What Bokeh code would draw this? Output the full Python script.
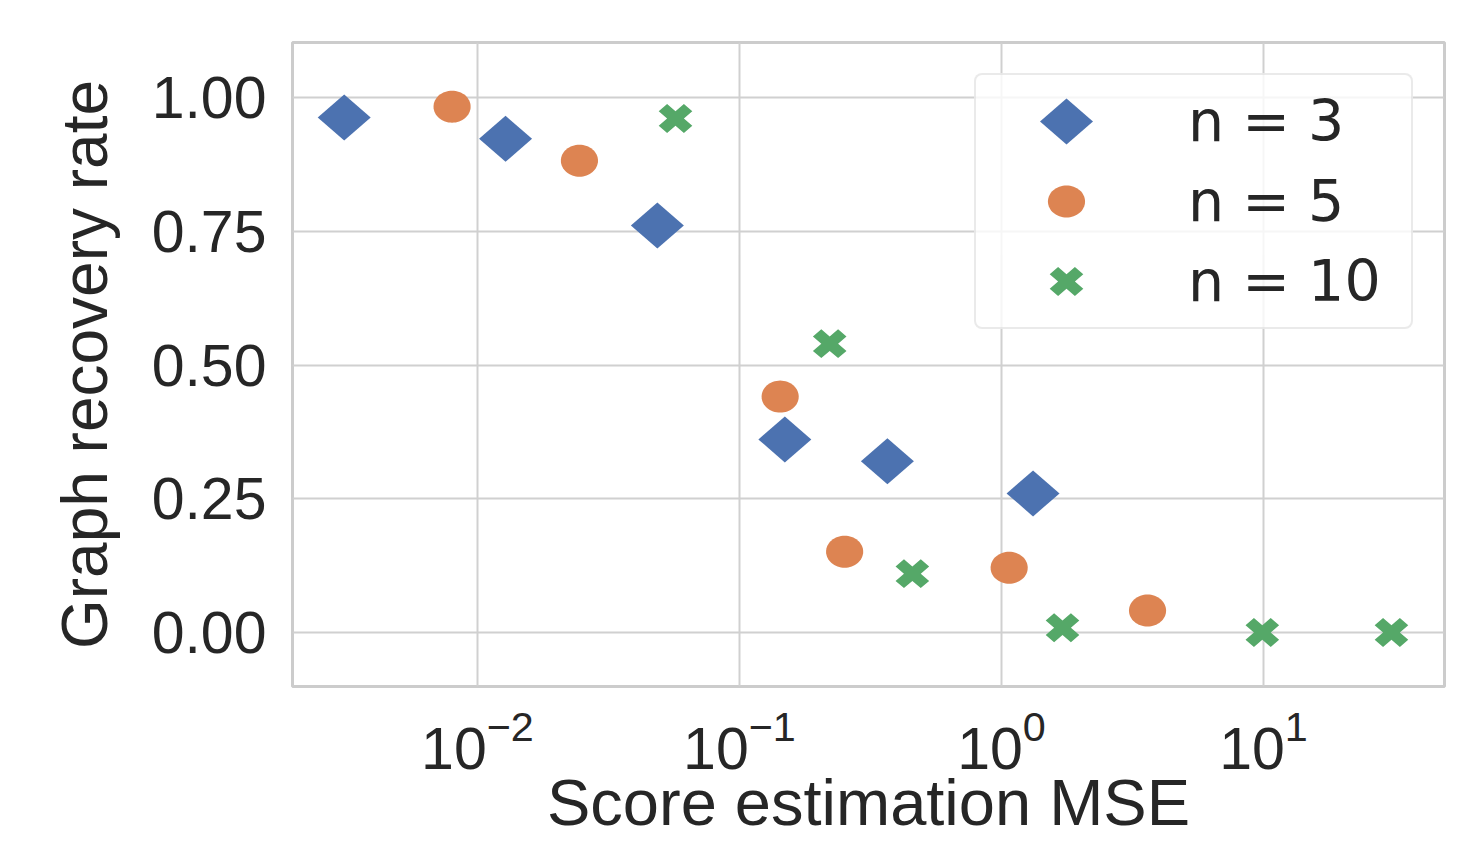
from bokeh.plotting import figure
from bokeh.models import Range1d, FixedTicker, NumeralTickFormatter, Legend, CustomJS
from bokeh.embed import file_html
from bokeh.resources import INLINE

# ---- data ----
mse_n3 = [0.0031, 0.0128, 0.0486, 0.149, 0.367, 1.32]
rate_n3 = [0.963, 0.923, 0.761, 0.361, 0.320, 0.260]
mse_n5 = [0.0080, 0.0245, 0.143, 0.252, 1.07, 3.61]
rate_n5 = [0.983, 0.882, 0.441, 0.151, 0.121, 0.041]
mse_n10 = [0.057, 0.221, 0.457, 1.71, 9.9, 30.8]
rate_n10 = [0.961, 0.540, 0.110, 0.009, 0.0, 0.0]
labels = ["n = 3", "n = 5", "n = 10"]
x_ticks = [0.01, 0.1, 1, 10]
y_ticks = [0.0, 0.25, 0.5, 0.75, 1.0]

BLUE, ORANGE, GREEN = "#4C72B0", "#DD8452", "#55A868"
TEXT = "#262626"
GRID = "#d0d0d0"

# custom marker shapes (matplotlib-like 'D', 'o', 'X', slightly wide), painted directly
diamond_js = CustomJS(code="""
export default (args, obj, {ctx, i, r, visuals}) => {
  const w = 1.656 * r, h = 1.4375 * r
  ctx.beginPath()
  ctx.moveTo(0, -h); ctx.lineTo(w, 0); ctx.lineTo(0, h); ctx.lineTo(-w, 0)
  ctx.closePath()
  visuals.fill.apply(ctx, i)
}
""")
ellipse_js = CustomJS(code="""
export default (args, obj, {ctx, i, r, visuals}) => {
  const n = 64
  ctx.beginPath()
  for (let k = 0; k < n; k++) {
    const t = 2 * Math.PI * k / n
    const px = 1.16 * r * Math.cos(t), py = r * Math.sin(t)
    if (k == 0) ctx.moveTo(px, py); else ctx.lineTo(px, py)
  }
  ctx.closePath()
  visuals.fill.apply(ctx, i)
}
""")
xfill_js = CustomJS(code="""
export default (args, obj, {ctx, i, r, visuals}) => {
  const pts = [[-1,-3],[1,-3],[1,-1],[3,-1],[3,1],[1,1],[1,3],[-1,3],[-1,1],[-3,1],[-3,-1],[-1,-1]]
  const s = 0.32 * r, c = Math.SQRT1_2
  ctx.beginPath()
  pts.forEach(([x, y], k) => {
    const px = (x - y) * c * s * 1.16
    const py = (x + y) * c * s
    if (k == 0) ctx.moveTo(px, py); else ctx.lineTo(px, py)
  })
  ctx.closePath()
  visuals.fill.apply(ctx, i)
}
""")

p = figure(
    x_axis_type="log",
    width=1464, height=840,
    frame_width=1152, frame_height=644,
    min_border_left=292, min_border_right=20, min_border_top=42, min_border_bottom=154,
    x_range=Range1d(10 ** -2.706, 10 ** 1.691),
    y_range=Range1d(-0.101, 1.103),
    output_backend="svg", toolbar_location=None,
    background_fill_color="white", border_fill_color="white",
)

p.scatter(mse_n3, rate_n3, marker="@diamond", defs={"@diamond": diamond_js}, size=32,
          fill_color=BLUE, line_color=None, legend_label=labels[0])
p.scatter(mse_n5, rate_n5, marker="@ellipse", defs={"@ellipse": ellipse_js}, size=32,
          fill_color=ORANGE, line_color=None, legend_label=labels[1])
p.scatter(mse_n10, rate_n10, marker="@xfill", defs={"@xfill": xfill_js}, size=32,
          fill_color=GREEN, line_color=None, legend_label=labels[2])

# axes
p.xaxis.ticker = FixedTicker(ticks=x_ticks, minor_ticks=[])
p.yaxis.ticker = FixedTicker(ticks=y_ticks, minor_ticks=[])
p.yaxis.formatter = NumeralTickFormatter(format="0.00")
for ax in (p.xaxis, p.yaxis):
    ax.axis_line_color = None
    ax.major_tick_line_color = None
    ax.minor_tick_line_color = None
    ax.major_tick_out = 0
    ax.major_tick_in = 0
    ax.major_label_text_font = "Liberation Sans"
    ax.major_label_text_font_size = "59px"
    ax.major_label_text_color = TEXT
    ax.axis_label_text_font = "Liberation Sans"
    ax.axis_label_text_font_style = "normal"
    ax.axis_label_text_color = TEXT
p.xaxis.axis_label_text_font_size = "65px"
p.yaxis.axis_label_text_font_size = "64px"
p.xaxis.axis_label = "Score estimation MSE"
p.yaxis.axis_label = "Graph recovery rate"
p.xaxis.major_label_standoff = 23
p.yaxis.major_label_standoff = 26
p.xaxis.axis_label_standoff = -6
p.yaxis.axis_label_standoff = 28

p.xgrid.grid_line_color = GRID
p.ygrid.grid_line_color = GRID
p.xgrid.grid_line_width = 2
p.ygrid.grid_line_width = 2
p.outline_line_color = "#cccccc"
p.outline_line_width = 3

leg = p.legend[0]
leg.location = "top_right"
leg.margin = 31
leg.padding = 6
leg.spacing = 0
leg.glyph_width = 168
leg.glyph_height = 80
leg.label_standoff = 38
leg.label_width = 217
leg.label_height = 80
leg.label_text_font = "DejaVu Sans"
leg.label_text_font_size = "57px"
leg.label_text_color = TEXT
leg.border_line_color = "#d6d6d6"
leg.border_line_width = 2
leg.background_fill_color = "white"
leg.background_fill_alpha = 0.8
if "border_radius" in Legend.properties():
    leg.border_radius = 8

open("out.html", "w").write(file_html(p, INLINE))
